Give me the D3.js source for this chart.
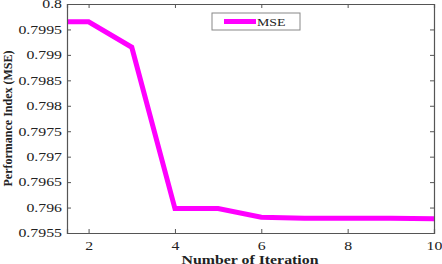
<!doctype html>
<html lang="en">
<head>
<meta charset="utf-8">
<script src="https://d3js.org/d3.v7.min.js"></script>
<style>
  body { margin: 0; background: white; }
  svg text { font-family: "Liberation Serif", "Times New Roman", serif; }
</style>
</head>
<body>
<svg id="svg" width="442" height="264"></svg>
<script>
  // data
  let iterations = [1, 2, 3, 4, 5, 6, 7, 8, 9, 10];
  let mse = [0.79965, 0.79965, 0.79915, 0.79598, 0.79598, 0.79581, 0.79579, 0.79579, 0.79579, 0.79578];
  let xTicks = [2, 4, 6, 8, 10];
  let yTicks = [0.7955, 0.796, 0.7965, 0.797, 0.7975, 0.798, 0.7985, 0.799, 0.7995, 0.8];

  let margin = { top: 4, right: 8, bottom: 31, left: 67 };
  let width = 442 - margin.left - margin.right;
  let height = 264 - margin.top - margin.bottom;
  let stretch = 1.32; // the figure looks stretched sideways
  let axisColor = "#555";
  let textColor = "#222";

  let svg = d3.select("#svg");
  let g = svg.append("g").attr("transform", `translate(${margin.left}, ${margin.top})`);

  let xScale = d3.scaleLinear().domain([1.5, 10]).range([0, width]);
  let yScale = d3.scaleLinear().domain([0.7955, 0.8]).range([height, 0]);

  g.append("clipPath").attr("id", "clip")
    .append("rect").attr("width", width).attr("height", height);

  // line
  let line = d3.line().x((d, i) => xScale(iterations[i])).y(d => yScale(d));
  g.append("path")
    .datum(mse)
    .attr("clip-path", "url(#clip)")
    .attr("fill", "none")
    .attr("stroke", "#ff00ff")
    .attr("stroke-width", 5)
    .attr("d", line);

  // axes, MATLAB style inward ticks
  let xAxis = g.append("g").attr("transform", `translate(0, ${height})`)
    .call(d3.axisBottom(xScale).tickValues(xTicks).tickSize(-4).tickPadding(8).tickFormat(d3.format("d")));
  let xTop = g.append("g")
    .call(d3.axisTop(xScale).tickValues(xTicks).tickSize(-4).tickFormat(""));
  let yAxis = g.append("g")
    .call(d3.axisLeft(yScale).tickValues(yTicks).tickSize(-4).tickFormat(d => String(+d.toFixed(4))));
  let yRight = g.append("g").attr("transform", `translate(${width}, 0)`)
    .call(d3.axisRight(yScale).tickValues(yTicks).tickSize(-4).tickFormat(""));

  [xAxis, xTop, yAxis, yRight].forEach(a => {
    a.select(".domain").attr("stroke", axisColor).attr("stroke-width", 1.2);
    a.selectAll(".tick line").attr("stroke", axisColor);
    a.selectAll("text").attr("font-size", 12).attr("fill", textColor)
      .attr("font-family", "Liberation Serif, serif")
      .attr("transform", `scale(${stretch}, 1)`);
  });
  yAxis.selectAll("text").attr("x", -5 / stretch);

  // legend
  let legend = g.append("g").attr("transform", `translate(${212 - margin.left}, ${13 - margin.top})`);
  legend.append("rect").attr("width", 88).attr("height", 17)
    .attr("fill", "white").attr("stroke", "#888").attr("stroke-width", 1);
  legend.append("line").attr("x1", 12).attr("x2", 44).attr("y1", 8.5).attr("y2", 8.5)
    .attr("stroke", "#ff00ff").attr("stroke-width", 5);
  legend.append("text")
    .attr("transform", `translate(45, 12.5) scale(${stretch}, 1)`)
    .attr("font-size", 10.5).attr("fill", textColor).text("MSE");

  // axis titles
  svg.append("text")
    .attr("transform", `translate(250, 263.5) scale(${stretch}, 1)`)
    .attr("text-anchor", "middle").attr("font-size", 12).attr("font-weight", "bold").attr("fill", textColor)
    .text("Number of Iteration");
  svg.append("text")
    .attr("transform", `translate(12, ${margin.top + height / 2}) rotate(-90)`)
    .attr("text-anchor", "middle").attr("font-size", 12).attr("font-weight", "bold").attr("fill", textColor)
    .text("Performance Index (MSE)");
</script>
</body>
</html>
